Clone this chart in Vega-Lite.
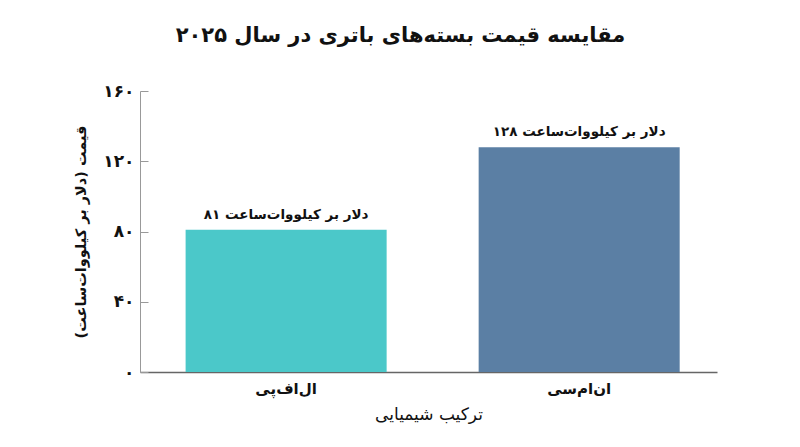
{
  "$schema": "https://vega.github.io/schema/vega-lite/v6.json",
  "autosize": {"type": "none"},
  "width": 577,
  "height": 281,
  "padding": {"left": 140, "top": 91, "right": 83, "bottom": 75},
  "background": "white",
  "title": {
    "text": "مقایسه قیمت بسته‌های باتری در سال ۲۰۲۵",
    "font": "DejaVu Sans",
    "fontSize": 21,
    "fontWeight": "bold",
    "color": "#111111",
    "offset": 36,
    "dx": -28
  },
  "data": {
    "values": [
      {"chem": "ال‌اف‌پی", "price": 81, "label": "۸۱ دلار بر کیلووات‌ساعت"},
      {"chem": "ان‌ام‌سی", "price": 128, "label": "۱۲۸ دلار بر کیلووات‌ساعت"}
    ]
  },
  "config": {
    "view": {"stroke": null},
    "font": "DejaVu Sans"
  },
  "encoding": {
    "x": {
      "field": "chem",
      "type": "nominal",
      "sort": null,
      "scale": {"paddingInner": 0.314, "paddingOuter": 0.1415, "align": 0.55},
      "axis": {
        "title": "ترکیب شیمیایی",
        "titleFont": "DejaVu Sans",
        "titleFontSize": 17,
        "titleFontWeight": "normal",
        "titleColor": "#111111",
        "titlePadding": 10,
        "labelAngle": 0,
        "labelFont": "DejaVu Sans",
        "labelFontSize": 15,
        "labelFontWeight": "bold",
        "labelColor": "#111111",
        "labelPadding": 9,
        "ticks": false,
        "domainColor": "#666666",
        "domainWidth": 1.5
      }
    },
    "y": {
      "field": "price",
      "type": "quantitative",
      "scale": {"domain": [0, 160]},
      "axis": {
        "title": "قیمت (دلار بر کیلووات‌ساعت)",
        "titleFont": "DejaVu Sans",
        "titleFontSize": 14.5,
        "titleFontWeight": "bold",
        "titleColor": "#111111",
        "titlePadding": 14,
        "values": [0, 40, 80, 120, 160],
        "labelExpr": "datum.value == 0 ? '۰' : datum.value == 40 ? '۴۰' : datum.value == 80 ? '۸۰' : datum.value == 120 ? '۱۲۰' : '۱۶۰'",
        "labelFont": "DejaVu Sans",
        "labelFontSize": 17,
        "labelFontWeight": "bold",
        "labelColor": "#111111",
        "labelPadding": 14,
        "tickSize": -8,
        "tickColor": "#999999",
        "domainColor": "#999999",
        "grid": false
      }
    }
  },
  "layer": [
    {
      "mark": {"type": "bar"},
      "encoding": {
        "color": {
          "field": "chem",
          "type": "nominal",
          "scale": {"range": ["#4bc8c9", "#5b7fa4"]},
          "legend": null
        }
      }
    },
    {
      "mark": {"type": "text", "dy": -15, "fontSize": 13.5, "fontWeight": "bold", "color": "#111111", "font": "DejaVu Sans"},
      "encoding": {"text": {"field": "label"}}
    }
  ]
}
